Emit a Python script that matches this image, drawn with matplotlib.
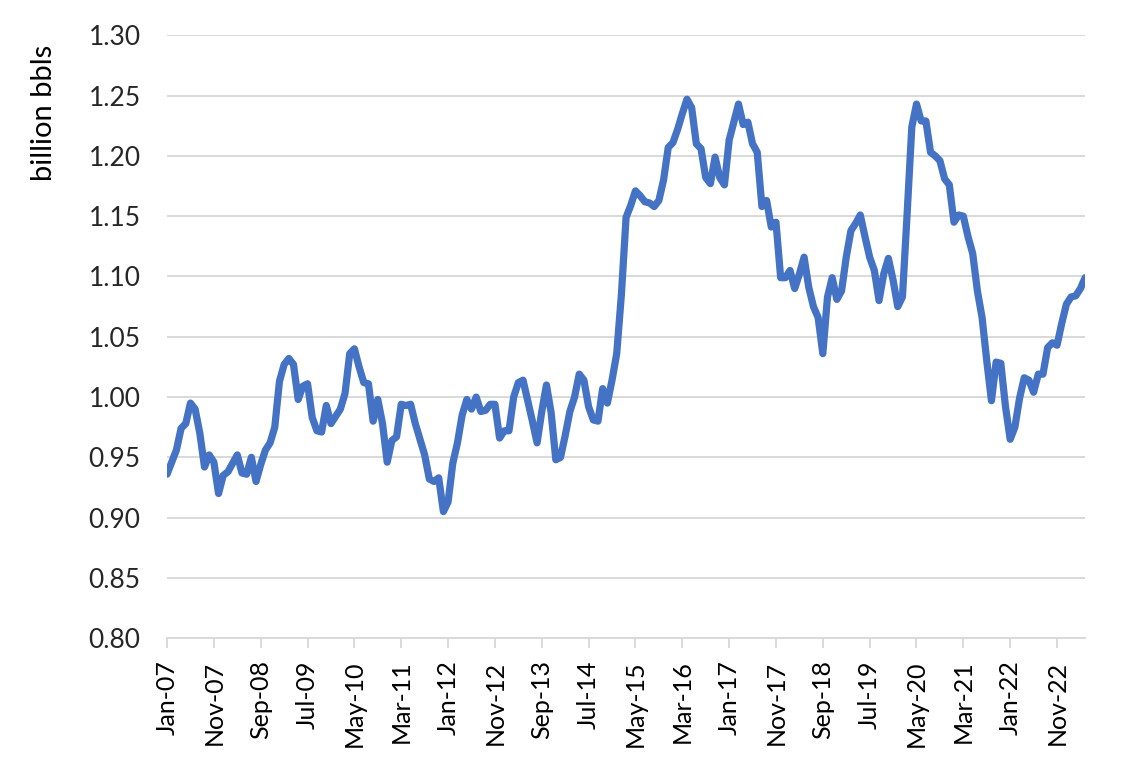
import numpy as np
import pandas as pd
import matplotlib
matplotlib.use('Agg')
import matplotlib.pyplot as plt

plt.rcParams['font.family'] = ['Lato', 'DejaVu Sans']

# monthly series, billion bbls, starting Jan-2007
start = '2007-01-01'
values = [
    0.936, 0.946, 0.956, 0.974, 0.978, 0.995, 0.990, 0.970, 0.942, 0.952,
    0.946, 0.920, 0.935, 0.938, 0.945, 0.952, 0.937, 0.936, 0.950, 0.930,
    0.944, 0.956, 0.962, 0.975, 1.013, 1.027, 1.032, 1.027, 0.998, 1.009,
    1.011, 0.983, 0.972, 0.971, 0.993, 0.978, 0.984, 0.990, 1.003, 1.036,
    1.040, 1.025, 1.012, 1.011, 0.980, 0.998, 0.978, 0.946, 0.964, 0.967,
    0.994, 0.993, 0.994, 0.978, 0.965, 0.952, 0.932, 0.930, 0.933, 0.905,
    0.913, 0.945, 0.962, 0.985, 0.998, 0.990, 1.000, 0.988, 0.989, 0.994,
    0.994, 0.966, 0.972, 0.972, 1.000, 1.012, 1.014, 0.997, 0.980, 0.962,
    0.988, 1.010, 0.987, 0.948, 0.950, 0.968, 0.988, 1.000, 1.019, 1.014,
    0.992, 0.981, 0.980, 1.007, 0.995, 1.014, 1.036, 1.085, 1.149, 1.159,
    1.171, 1.167, 1.162, 1.161, 1.158, 1.163, 1.180, 1.207, 1.211, 1.222,
    1.235, 1.247, 1.240, 1.210, 1.206, 1.182, 1.177, 1.199, 1.182, 1.176,
    1.213, 1.228, 1.243, 1.226, 1.228, 1.210, 1.203, 1.158, 1.163, 1.141,
    1.145, 1.099, 1.099, 1.105, 1.090, 1.102, 1.116, 1.091, 1.075, 1.066,
    1.036, 1.083, 1.099, 1.081, 1.088, 1.116, 1.138, 1.144, 1.151, 1.133,
    1.116, 1.105, 1.080, 1.102, 1.115, 1.097, 1.075, 1.083, 1.152, 1.224,
    1.243, 1.229, 1.229, 1.203, 1.200, 1.196, 1.181, 1.176, 1.145, 1.151,
    1.150, 1.133, 1.119, 1.088, 1.066, 1.030, 0.997, 1.029, 1.028, 0.992,
    0.965, 0.975, 0.999, 1.016, 1.014, 1.004, 1.019, 1.019, 1.041, 1.045,
    1.043, 1.061, 1.077, 1.083, 1.084, 1.090, 1.099,
]
dates = pd.date_range(start, periods=len(values), freq='MS')
tick_step = 10
y_ticks = [0.80, 0.85, 0.90, 0.95, 1.00, 1.05, 1.10, 1.15, 1.20, 1.25, 1.30]

fig = plt.figure(figsize=(11.21, 7.68), dpi=100)
ax = fig.add_axes([0.149, 0.169, 0.819, 0.785])

x = np.arange(len(values))
ax.plot(x, values, color='#4472C4', lw=5.2, solid_joinstyle='round',
        solid_capstyle='round', zorder=3)

ax.set_xlim(0, len(values) - 1)
ax.set_ylim(0.80, 1.30)
ax.set_yticks(y_ticks)
ax.set_yticklabels(['%.2f' % v for v in y_ticks])
ax.yaxis.grid(True, color='#D9D9D9', lw=1.4)
ax.set_axisbelow(True)

ticks = x[::tick_step]
ax.set_xticks(ticks)
ax.set_xticklabels([dates[i].strftime('%b-%y') for i in ticks], rotation=90)

for s in ['top', 'right', 'left']:
    ax.spines[s].set_visible(False)
ax.spines['bottom'].set_color('#D9D9D9')
ax.spines['bottom'].set_linewidth(1.4)

ax.tick_params(axis='y', length=0, pad=19, labelsize=19, labelcolor='#262626')
ax.tick_params(axis='x', length=7, width=1.4, color='#D9D9D9', pad=9,
               labelsize=18, labelcolor='black')

ax.set_ylabel('billion bbls', fontsize=21)
ax.yaxis.set_label_coords(-0.12, 0.872)

fig.savefig('out.png', dpi=100)
